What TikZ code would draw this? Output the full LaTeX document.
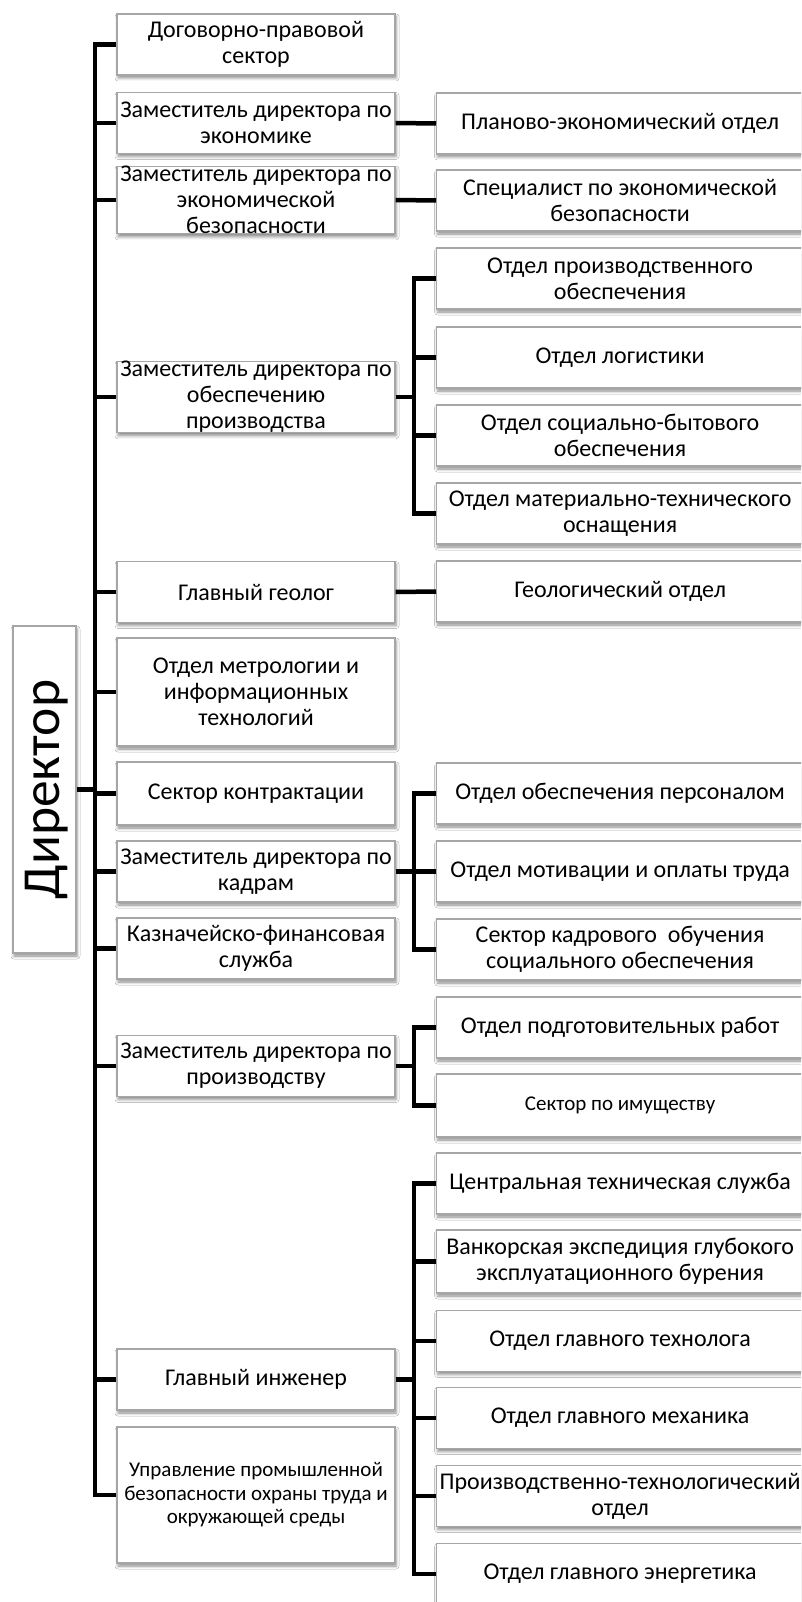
\documentclass[tikz,border=0pt]{standalone}
\usepackage{fontspec}
\setmainfont{Carlito}
\usetikzlibrary{shadows.blur}
\definecolor{boxgray}{HTML}{A6A6A6}
\newcommand{\rtext}[1]{\makebox[400pt][l]{\parbox{367pt}{\centering #1}}}
\tikzset{
  box/.style={draw=boxgray, line width=1.2pt, fill=white, inner sep=0pt, align=center,
    blur shadow={shadow xshift=1pt, shadow yshift=-3pt, shadow blur radius=3pt, shadow opacity=45},
    font=\fontsize{24}{26}\selectfont},
  lbox/.style={box, minimum width=278pt, minimum height=61pt},
  rbox/.style={box, minimum height=61pt, anchor=west},
  smalltext/.style={font=\fontsize{21}{23.5}\selectfont},
  conn/.style={line width=4.5pt, black, line join=miter},
}
\begin{document}
\begin{tikzpicture}[x=1pt, y=-1pt]
\useasboundingbox (0,0) rectangle (801,1602);
\clip (0,0) rectangle (801,1602);
\fill[white] (0,0) rectangle (801,1602);
\coordinate (mx) at (95,0);
\coordinate (sx) at (414,0);

% director
\node[box, minimum width=63pt, minimum height=327pt] (dir) at (44.5,789.5) {};
\node[rotate=90, font=\fontsize{53.5}{56}\selectfont, inner sep=0pt] (dirlabel) at (47,789.5) {Директор};

% left column
\node[lbox] (l1) at (256,44.5) {Договорно-правовой\\сектор};
\node[lbox] (l2) at (256,123) {Заместитель директора по\\экономике};
\node[lbox] (l3) at (256,200) {Заместитель директора по\\экономической\\безопасности};
\node[lbox] (l4) at (256,397) {Заместитель директора по\\обеспечению\\производства};
\node[lbox] (l5) at (256,592) {Главный геолог};
\node[lbox, minimum height=108pt] (l6) at (256,692) {Отдел метрологии и\\информационных\\технологий};
\node[lbox, minimum height=63pt] (l7) at (256,793.5) {Сектор контрактации};
\node[lbox] (l8) at (256,871.5) {Заместитель директора по\\кадрам};
\node[lbox] (l9) at (256,948.5) {Казначейско-финансовая\\служба};
\node[lbox] (l10) at (256,1066) {Заместитель директора по\\производству};
\node[lbox] (l11) at (256,1379.5) {Главный инженер};
\node[lbox, minimum height=136pt, smalltext] (l12) at (256,1495) {Управление промышленной\\безопасности охраны труда и\\окружающей среды};

% right column
\node[rbox] (r1) at (436,123.5) {\rtext{Планово-экономический отдел}};
\node[rbox] (r2) at (436,200.5) {\rtext{Специалист по экономической\\безопасности}};
\node[rbox] (r3) at (436,278.5) {\rtext{Отдел производственного\\обеспечения}};
\node[rbox] (r4) at (436,357.5) {\rtext{Отдел логистики}};
\node[rbox] (r5) at (436,435.5) {\rtext{Отдел социально-бытового\\обеспечения}};
\node[rbox] (r6) at (436,513.5) {\rtext{Отдел материально-технического\\оснащения}};
\node[rbox] (r7) at (436,591.5) {\rtext{Геологический отдел}};
\node[rbox] (r8) at (436,793.5) {\rtext{Отдел обеспечения персоналом}};
\node[rbox] (r9) at (436,871.5) {\rtext{Отдел мотивации и оплаты труда}};
\node[rbox] (r10) at (436,949.5) {\rtext{Сектор кадрового\ \ обучения\\социального обеспечения}};
\node[rbox] (r11) at (436,1027.5) {\rtext{Отдел подготовительных работ}};
\node[rbox, minimum height=63pt, smalltext] (r12) at (436,1105.5) {\rtext{Сектор по имуществу}};
\node[rbox] (r13) at (436,1183.5) {\rtext{Центральная техническая служба}};
\node[rbox, minimum height=63pt] (r14) at (436,1261.5) {\rtext{Ванкорская экспедиция глубокого\\эксплуатационного бурения}};
\node[rbox] (r15) at (436,1341) {\rtext{Отдел главного технолога}};
\node[rbox] (r16) at (436,1418) {\rtext{Отдел главного механика}};
\node[rbox] (r17) at (436,1496) {\rtext{Производственно-технологический\\отдел}};
\node[rbox] (r18) at (436,1574) {\rtext{Отдел главного энергетика}};

% main trunk
\draw[conn] (l1.west) -- (l1.west -| mx) -- (l12.west -| mx) -- (l12.west);
\foreach \n in {l2,l3,l4,l5,l6,l7,l8,l9,l10,l11}
  \draw[conn] (\n.west -| mx) -- (\n.west);
\draw[conn] (dir.east) -- (dir.east -| mx);

% direct links
\draw[conn] (l2.east) -- (r1.west);
\draw[conn] (l3.east) -- (r2.west);
\draw[conn] (l5.east) -- (r7.west);

% group: обеспечение производства
\draw[conn] (r3.west) -- (r3.west -| sx) -- (r6.west -| sx) -- (r6.west);
\draw[conn] (l4.east) -- (l4.east -| sx);
\foreach \n in {r4,r5} \draw[conn] (\n.west -| sx) -- (\n.west);

% group: кадры
\draw[conn] (r8.west) -- (r8.west -| sx) -- (r10.west -| sx) -- (r10.west);
\draw[conn] (l8.east) -- (l8.east -| sx);
\draw[conn] (r9.west -| sx) -- (r9.west);

% group: производство
\draw[conn] (r11.west) -- (r11.west -| sx) -- (r12.west -| sx) -- (r12.west);
\draw[conn] (l10.east) -- (l10.east -| sx);

% group: главный инженер
\draw[conn] (r13.west) -- (r13.west -| sx) -- (r18.west -| sx) -- (r18.west);
\draw[conn] (l11.east) -- (l11.east -| sx);
\foreach \n in {r14,r15,r16,r17} \draw[conn] (\n.west -| sx) -- (\n.west);
\end{tikzpicture}
\end{document}
